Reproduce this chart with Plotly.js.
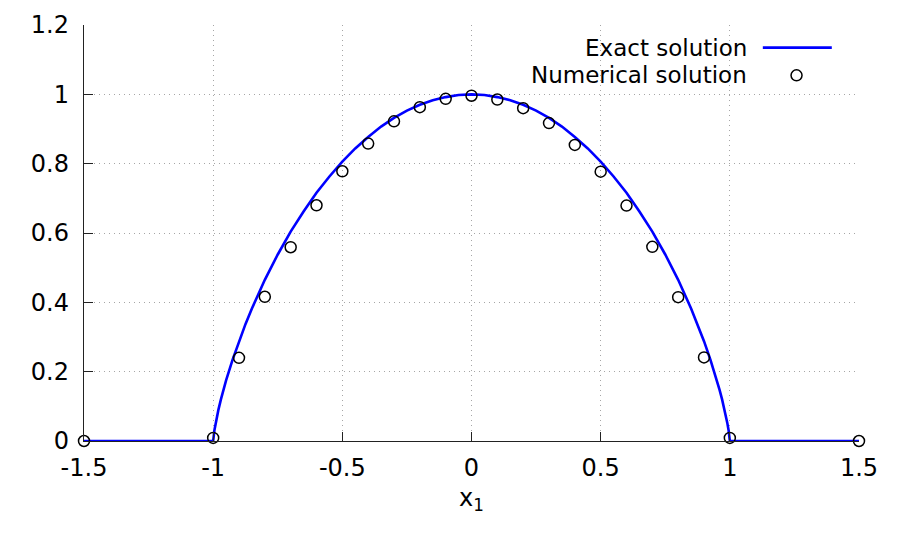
<!DOCTYPE html>
<html>
<head>
<meta charset="utf-8">
<script src="https://cdn.plot.ly/plotly-3.0.1.min.js"></script>
<style>html,body{margin:0;padding:0;background:#fff;}#chart{width:899px;height:540px;}</style>
</head>
<body>
<div id="chart"></div>
<script>
// Exact solution
const exactX = [-1.5, -1.0, -0.995, -0.99, -0.98, -0.97, -0.96, -0.95, -0.925, -0.9, -0.875, -0.85, -0.8, -0.75, -0.7, -0.65, -0.6, -0.55, -0.5, -0.45, -0.4, -0.35, -0.3, -0.25, -0.2, -0.15, -0.1, -0.05, 0.0,
                0.05, 0.1, 0.15, 0.2, 0.25, 0.3, 0.35, 0.4, 0.45, 0.5, 0.55, 0.6, 0.65, 0.7, 0.75, 0.8, 0.85, 0.875, 0.9, 0.925, 0.95, 0.96, 0.97, 0.98, 0.99, 0.995, 1.0, 1.5];
const exactY = [0, 0, 0.032, 0.053, 0.089, 0.120, 0.148, 0.175, 0.234, 0.288, 0.337, 0.382, 0.465, 0.538, 0.604, 0.662, 0.716, 0.763, 0.806, 0.844, 0.877, 0.907, 0.932, 0.953, 0.970, 0.983, 0.992, 0.998, 1.0,
                0.998, 0.992, 0.983, 0.970, 0.953, 0.932, 0.907, 0.877, 0.844, 0.806, 0.763, 0.716, 0.662, 0.604, 0.538, 0.465, 0.382, 0.337, 0.288, 0.234, 0.175, 0.148, 0.120, 0.089, 0.053, 0.032, 0, 0];

// Numerical solution (circles)
const numX = [-1.5, -1.0, -0.9, -0.8, -0.7, -0.6, -0.5, -0.4, -0.3, -0.2, -0.1, 0.0, 0.1, 0.2, 0.3, 0.4, 0.5, 0.6, 0.7, 0.8, 0.9, 1.0, 1.5];
const numY = [0, 0.009, 0.240, 0.416, 0.559, 0.680, 0.778, 0.858, 0.922, 0.963, 0.987, 0.996, 0.985, 0.960, 0.917, 0.854, 0.777, 0.679, 0.560, 0.415, 0.241, 0.009, 0];

// Tick labels
const xTickVals = [-1.5, -1, -0.5, 0, 0.5, 1, 1.5];
const xTickText = ["-1.5", "-1", "-0.5", "0", "0.5", "1", "1.5"];
const yTickVals = [0, 0.2, 0.4, 0.6, 0.8, 1, 1.2];
const yTickText = ["0", "0.2", "0.4", "0.6", "0.8", "1", "1.2"];

const seriesNames = ["Exact solution", "Numerical solution"];

const FONT = "DejaVu Sans, sans-serif";
const FS = 24;
const LFS = 23;

const traces = [
  {x: exactX, y: exactY, mode: "lines", name: seriesNames[0],
   line: {color: "#0000ff", width: 2.6}, showlegend: false, cliponaxis: false},
  {x: numX, y: numY, mode: "markers", name: seriesNames[1],
   marker: {symbol: "circle-open", size: 11, color: "#000000", line: {width: 1.5, color: "#000000"}},
   showlegend: false, cliponaxis: false}
];

const axisCommon = {
  showline: true, linecolor: "#222222", linewidth: 1.2,
  ticks: "inside", ticklen: 9, tickwidth: 1, tickcolor: "#222222",
  showgrid: true, gridcolor: "#a6a6a6", griddash: "1px,4px", gridwidth: 1,
  zeroline: false, tickfont: {family: FONT, size: FS, color: "#000000"},
  mirror: false
};

const layout = {
  width: 899, height: 540,
  margin: {l: 84, r: 40, t: 25, b: 99, pad: 0},
  paper_bgcolor: "#ffffff", plot_bgcolor: "#ffffff",
  font: {family: FONT, size: FS, color: "#000000"},
  showlegend: false,
  xaxis: Object.assign({}, axisCommon, {
    range: [-1.5, 1.5], tickmode: "array", tickvals: xTickVals, ticktext: xTickText,
    ticklabelstandoff: 5,
    title: {text: "x<sub>1</sub>", font: {family: FONT, size: FS, color: "#000000"}, standoff: 8}
  }),
  yaxis: Object.assign({}, axisCommon, {
    range: [0, 1.2], tickmode: "array", tickvals: yTickVals, ticktext: yTickText,
    ticklabelstandoff: 9
  }),
  annotations: [
    {xref: "paper", yref: "paper", x: 0.8585, y: 0.944, xanchor: "right", yanchor: "middle",
     text: seriesNames[0], showarrow: false, font: {family: FONT, size: LFS, color: "#000000"}},
    {xref: "paper", yref: "paper", x: 0.8585, y: 0.879, xanchor: "right", yanchor: "middle",
     text: seriesNames[1], showarrow: false, font: {family: FONT, size: LFS, color: "#000000"}}
  ],
  shapes: [
    {type: "line", xref: "paper", yref: "paper", x0: 0.8759, x1: 0.9649, y0: 0.9457, y1: 0.9457,
     line: {color: "#0000ff", width: 2.6}},
    {type: "circle", xref: "paper", yref: "paper", xsizemode: "pixel", ysizemode: "pixel",
     xanchor: 0.9194, yanchor: 0.879, x0: -5.5, x1: 5.5, y0: -5.5, y1: 5.5,
     line: {color: "#000000", width: 1.5}}
  ]
};

Plotly.newPlot("chart", traces, layout, {staticPlot: true, displayModeBar: false});
</script>
</body>
</html>
